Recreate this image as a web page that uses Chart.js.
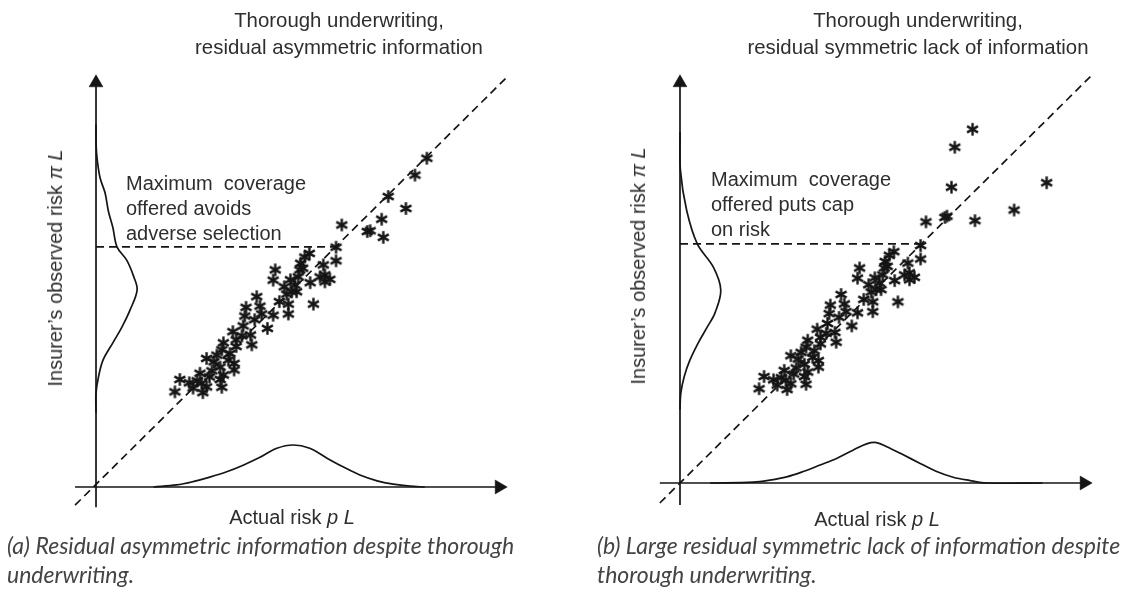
<!DOCTYPE html>
<html>
<head>
<meta charset="utf-8">
<script src="https://cdn.jsdelivr.net/npm/chart.js@4.4.0/dist/chart.umd.min.js"></script>
<style>
  html, body { margin: 0; padding: 0; background: #fff; }
  #wrap { position: relative; width: 1127px; height: 606px; overflow: hidden;
          font-family: "Liberation Sans", Arial, sans-serif; color: #2e2e2e; }
  #chart { position: absolute; left: 0; top: 0; }
  .t { position: absolute; white-space: nowrap; font-size: 20px; line-height: 27px; }
  .title { text-align: center; transform: translateX(-50%); font-size: 20.4px; }
  .note { line-height: 25px; }
  .ylab { transform: translate(-50%, -50%) rotate(-90deg); line-height: 24px; }
  .xlab { transform: translate(-50%, -50%); line-height: 24px; }
  .cap { font-family: Lato, "Open Sans", sans-serif; font-style: italic; font-size: 23px;
         line-height: 29px; color: #444; }
</style>
</head>
<body>
<div id="wrap">
  <canvas id="chart" width="1127" height="606"></canvas>

  <div class="t title" style="left:339px; top:7px;">Thorough underwriting,<br>residual asymmetric information</div>
  <div class="t title" style="left:918px; top:7px;">Thorough underwriting,<br>residual symmetric lack of information</div>

  <div class="t note" style="left:126px; top:171px;">Maximum&nbsp; coverage<br>offered avoids<br>adverse selection</div>
  <div class="t note" style="left:711px; top:167px;">Maximum&nbsp; coverage<br>offered puts cap<br>on risk</div>

  <div class="t ylab" style="left:55px; top:268px;">Insurer’s observed risk <i>π L</i></div>
  <div class="t ylab" style="left:638px; top:266px;">Insurer’s observed risk <i>π L</i></div>

  <div class="t xlab" style="left:292px; top:517px;">Actual risk <i>p L</i></div>
  <div class="t xlab" style="left:877px; top:519px;">Actual risk <i>p L</i></div>

  <div class="t cap" style="left:7px; top:531px;">(a) Residual asymmetric information despite thorough<br>underwriting.</div>
  <div class="t cap" style="left:597px; top:531px;">(b) Large residual symmetric lack of information despite<br>thorough underwriting.</div>
</div>

<script>
// observations shared by both panels (the dense cloud below the cap)
const clusterX = [39.1, 36.5, 39.9, 40.3, 43.1, 46.4, 46.8, 46.8, 48.8, 41.7, 35.8, 33.3, 37.6, 35.5, 37.9,
                  34.1, 31.0, 34.1, 30.6, 26.9, 28.7, 32.2, 33.6, 30.2, 33.6, 28.2, 31.0, 25.3, 30.2, 25.7,
                  26.9, 30.6, 20.4, 22.7, 24.6, 19.2, 26.0, 58.4, 58.4, 51.9, 43.6, 43.1, 55.3, 55.7, 54.5,
                  56.9, 55.7, 52.1, 52.9, 49.8, 49.6, 49.2, 48.4, 47.6, 50.3, 44.6, 45.8, 47.3, 38.6, 32.6,
                  29.4, 27.6, 23.6, 36.2, 50.8];
const clusterY = [46.2, 43.6, 43.9, 42.0, 41.7, 46.8, 44.4, 42.0, 47.4, 38.5, 39.1, 37.7, 36.9, 36.7, 34.5,
                  35.7, 35.0, 34.1, 33.3, 31.2, 30.4, 30.8, 30.0, 29.1, 28.4, 28.2, 27.2, 27.6, 26.1, 25.2,
                  24.3, 24.2, 26.1, 25.3, 25.8, 23.1, 22.9, 58.2, 54.9, 56.7, 52.7, 50.2, 53.9, 51.5, 51.0,
                  50.4, 49.8, 49.6, 44.4, 54.3, 52.7, 51.0, 49.0, 47.4, 53.1, 45.0, 48.6, 50.3, 40.6, 32.4,
                  32.0, 26.7, 24.0, 41.5, 55.8];

// points above the cap
const upperAX = [80.5, 77.6, 71.1, 75.4, 69.5, 66.0, 66.7, 69.9, 59.8];
const upperAY = [79.8, 75.7, 70.5, 67.6, 65.0, 62.0, 62.2, 60.6, 63.6];
const upperBX = [71.0, 66.7, 89.0, 65.9, 81.1, 59.7, 64.3, 64.8, 71.6];
const upperBY = [86.7, 82.3, 73.6, 72.5, 66.9, 64.0, 65.1, 65.4, 64.3];

// marginal densities
const yDensPosA = [88, 82.5, 79.4, 75, 71.4, 67, 63, 58.3, 55, 51, 47.8, 43, 38.8, 35, 30.8, 26.7, 22.8, 18];
const yDensValA = [0, 0.05, 0.3, 1.0, 2.2, 3.0, 4.1, 5.1, 7.5, 9.2, 10, 8.3, 6.3, 4.1, 1.7, 0.6, 0, 0];
const xDensPosA = [14, 19.6, 23.6, 27.7, 31.8, 35.8, 39.9, 44, 48, 52, 56.2, 60.1, 64.2, 68.4, 72.3, 76.4, 80];
const xDensValA = [0, 0.5, 1.3, 2.4, 3.7, 5.3, 7.2, 9.4, 10.2, 9.4, 7, 4.9, 2.9, 1.5, 0.7, 0.2, 0];

const yDensPosB = [86, 76.7, 66.9, 58.6, 52.9, 47.3, 41.7, 38.2, 34.3, 30.1, 26, 22, 18];
const yDensValB = [0, 0.1, 1.6, 4.2, 8.1, 9.9, 8.5, 6.6, 4.4, 2.4, 1.0, 0.2, 0];
const xDensPosB = [7.3, 17.8, 21.8, 25.9, 29.9, 34, 38, 42.1, 45.3, 47.7, 50.2, 54.2, 58.3, 62.3, 66.3, 70.4, 74.4, 88];
const xDensValB = [0, 0.2, 0.7, 1.5, 2.8, 4.4, 6.0, 8.1, 9.6, 9.9, 8.9, 6.9, 4.8, 2.8, 1.4, 0.6, 0, 0];

// cap on covered risk
const capA = 58.3;
const capB = 58.6;

const ink = '#151515';

function zip(xs, ys) {
    return xs.map((x, i) => ({ x: x, y: ys[i] }));
}

// asterisk marker
const star = document.createElement('canvas');
star.width = 15;
star.height = 15;
(function () {
    const c = star.getContext('2d');
    c.strokeStyle = ink;
    c.lineWidth = 2.4;
    [90, 30, 150].forEach(function (a) {
        const r = a * Math.PI / 180;
        c.beginPath();
        c.moveTo(7.5 - Math.cos(r) * 6.3, 7.5 - Math.sin(r) * 6.3);
        c.lineTo(7.5 + Math.cos(r) * 6.3, 7.5 + Math.sin(r) * 6.3);
        c.stroke();
    });
})();

function line(data, xId, yId, dash, tension) {
    return {
        type: 'scatter',
        data: data,
        xAxisID: xId,
        yAxisID: yId,
        showLine: true,
        borderColor: ink,
        borderWidth: 1.7,
        borderDash: dash || [],
        tension: tension || 0,
        pointRadius: 0,
        clip: false
    };
}

function arrow(pt, rot, xId, yId) {
    return {
        type: 'scatter',
        data: [pt],
        xAxisID: xId,
        yAxisID: yId,
        pointStyle: 'triangle',
        rotation: rot,
        pointRadius: 8,
        backgroundColor: ink,
        borderColor: ink,
        borderWidth: 0.5,
        clip: false
    };
}

function stars(data, xId, yId) {
    return {
        type: 'scatter',
        data: data,
        xAxisID: xId,
        yAxisID: yId,
        pointStyle: star,
        pointRadius: 5,
        clip: false
    };
}

function panel(xId, yId, diag, cap, capEnd, yDens, xDens, upper, yBottom, xLeft) {
    return [
        line([{ x: 0, y: yBottom }, { x: 0, y: 98 }], xId, yId),
        line([{ x: xLeft, y: 0 }, { x: 98, y: 0 }], xId, yId),
        arrow({ x: 0, y: 98.1 }, 0, xId, yId),
        arrow({ x: 98.1, y: 0 }, 90, xId, yId),
        line(diag, xId, yId, [8, 5]),
        line([{ x: 0, y: cap }, { x: capEnd, y: cap }], xId, yId, [8, 5]),
        line(yDens, xId, yId, null, 0.35),
        line(xDens, xId, yId, null, 0.35),
        stars(zip(clusterX, clusterY).concat(upper), xId, yId)
    ];
}

const datasets = []
    .concat(panel('xA', 'yA',
        [{ x: -5.1, y: -4.4 }, { x: 100, y: 99.5 }], capA, 59.4,
        zip(yDensValA, yDensPosA), zip(xDensPosA, xDensValA),
        zip(upperAX, upperAY), -4.9, -5.1))
    .concat(panel('xB', 'yB',
        [{ x: -4.9, y: -4.9 }, { x: 100.2, y: 100.2 }], capB, 58.3,
        zip(yDensValB, yDensPosB), zip(xDensPosB, xDensValB),
        zip(upperBX, upperBY), -5.4, -4.9));

new Chart(document.getElementById('chart'), {
    type: 'scatter',
    data: { datasets: datasets },
    options: {
        responsive: false,
        animation: false,
        layout: { padding: 0, autoPadding: false },
        plugins: { legend: { display: false }, tooltip: { enabled: false } },
        scales: {
            xA: { type: 'linear', axis: 'x', display: false, min: -23.36, max: 250.85 },
            yA: { type: 'linear', axis: 'y', display: false, min: -28.88, max: 118.2 },
            xB: { type: 'linear', axis: 'x', display: false, min: -165.05, max: 108.5 },
            yB: { type: 'linear', axis: 'y', display: false, min: -30.15, max: 118.38 }
        }
    }
});
</script>
</body>
</html>
